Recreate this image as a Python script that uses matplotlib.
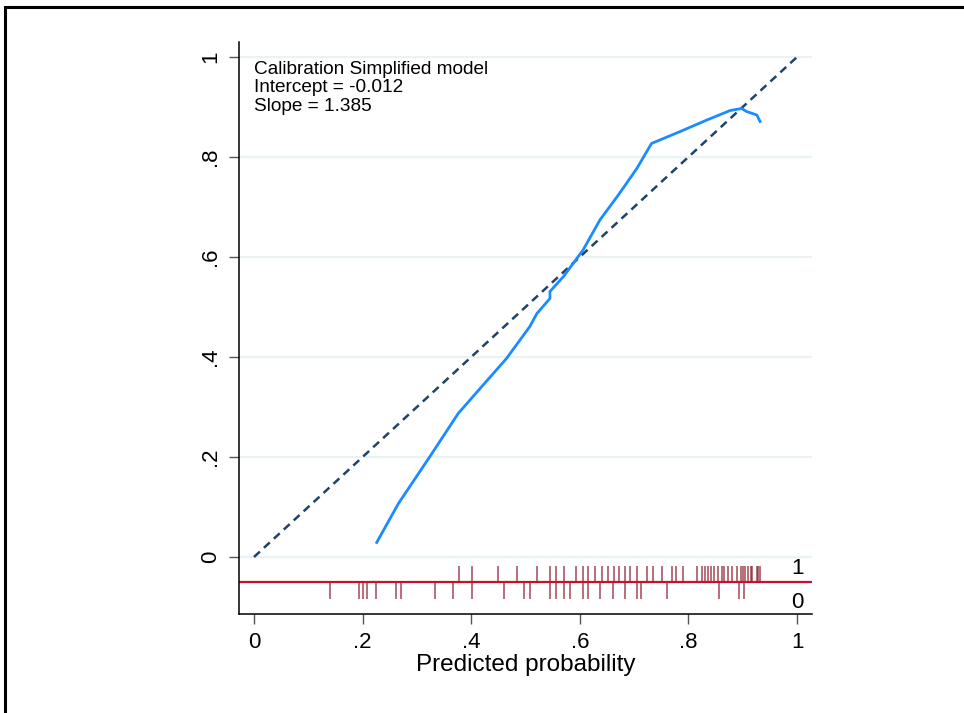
import matplotlib
matplotlib.use("Agg")
import matplotlib.pyplot as plt
from matplotlib.patches import Rectangle

plt.rcParams['font.family'] = ['Liberation Sans', 'DejaVu Sans']

# Calibration curve (lowess-smoothed observed vs predicted)
curve_x = [0.226, 0.266, 0.324, 0.376, 0.422, 0.465, 0.508, 0.521, 0.545, 0.545,
           0.570, 0.606, 0.637, 0.671, 0.705, 0.732, 0.754, 0.785, 0.834, 0.877,
           0.898, 0.907, 0.926, 0.932]
curve_y = [0.029, 0.107, 0.201, 0.287, 0.344, 0.397, 0.461, 0.487, 0.517, 0.531,
           0.561, 0.614, 0.674, 0.724, 0.777, 0.827, 0.837, 0.851, 0.874, 0.893,
           0.897, 0.891, 0.884, 0.871]

# Rug: predicted probabilities for outcome = 1 and outcome = 0
rug_one = [0.378, 0.401, 0.449, 0.484, 0.522, 0.545, 0.556, 0.570, 0.593, 0.605,
           0.616, 0.628, 0.641, 0.652, 0.663, 0.672, 0.683, 0.693, 0.705, 0.723,
           0.734, 0.752, 0.769, 0.778, 0.790, 0.816, 0.825, 0.830, 0.836, 0.841,
           0.848, 0.854, 0.861, 0.865, 0.873, 0.881, 0.889, 0.896, 0.900, 0.904,
           0.909, 0.915, 0.918, 0.926, 0.928, 0.931]
rug_zero = [0.140, 0.193, 0.201, 0.209, 0.225, 0.261, 0.271, 0.333, 0.366, 0.401,
            0.460, 0.497, 0.508, 0.545, 0.556, 0.570, 0.582, 0.605, 0.616, 0.638,
            0.661, 0.683, 0.705, 0.713, 0.760, 0.857, 0.894, 0.902]

ticks = [0, 0.2, 0.4, 0.6, 0.8, 1.0]
tick_labels = ['0', '.2', '.4', '.6', '.8', '1']
annot = "Calibration Simplified model\nIntercept = -0.012\nSlope = 1.385"

fig = plt.figure(figsize=(9.64, 7.13), dpi=100)
W, H = 964, 713
ax = fig.add_axes([239 / W, 1 - 614 / H, (812 - 239) / W, (614 - 42) / H])

# outer frame
fig.patches.append(Rectangle((5 / W, -0.1), 2.0, 1 - 7 / H + 0.1, transform=fig.transFigure,
                             fill=False, edgecolor='black', linewidth=2.2))

ax.set_xlim(-0.0276, 1.0276)
ax.set_ylim(-0.114, 1.03)

for t in ticks:
    ax.axhline(t, color='#eaf2f3', linewidth=1.6, zorder=0)

ax.plot([0, 1], [0, 1], linestyle=(0, (3.2, 2.2)), color='#1f4468', linewidth=1.8, zorder=2)
ax.plot(curve_x, curve_y, color='#1a8cff', linewidth=2.0, zorder=3)

ax.axhline(-0.05, color='#c8102e', linewidth=1.6, zorder=2)
ax.vlines(rug_one, -0.018, -0.049, color='#8b1a2b', alpha=0.8, linewidth=1.1, zorder=1)
ax.vlines(rug_zero, -0.051, -0.084, color='#8b1a2b', alpha=0.8, linewidth=1.1, zorder=1)
ax.text(1.0, -0.022, '1', fontsize=16, ha='center', va='center')
ax.text(1.0, -0.09, '0', fontsize=16, ha='center', va='center')

ax.text(0.0, 0.993, annot, fontsize=13.7, ha='left', va='top', linespacing=1.13)

ax.set_xticks(ticks)
ax.set_xticklabels(tick_labels, fontsize=16)
ax.set_yticks(ticks)
ax.set_yticklabels(tick_labels, fontsize=16, rotation=90, va='center')
ax.tick_params(axis='both', length=7, width=1.0, color='#555555', pad=6)
ax.set_xlabel('Predicted probability', fontsize=17.5, labelpad=1)

for s in ['top', 'right']:
    ax.spines[s].set_visible(False)
for s in ['left', 'bottom']:
    ax.spines[s].set_linewidth(1.1)

fig.savefig('out.png', dpi=100, facecolor='white')
